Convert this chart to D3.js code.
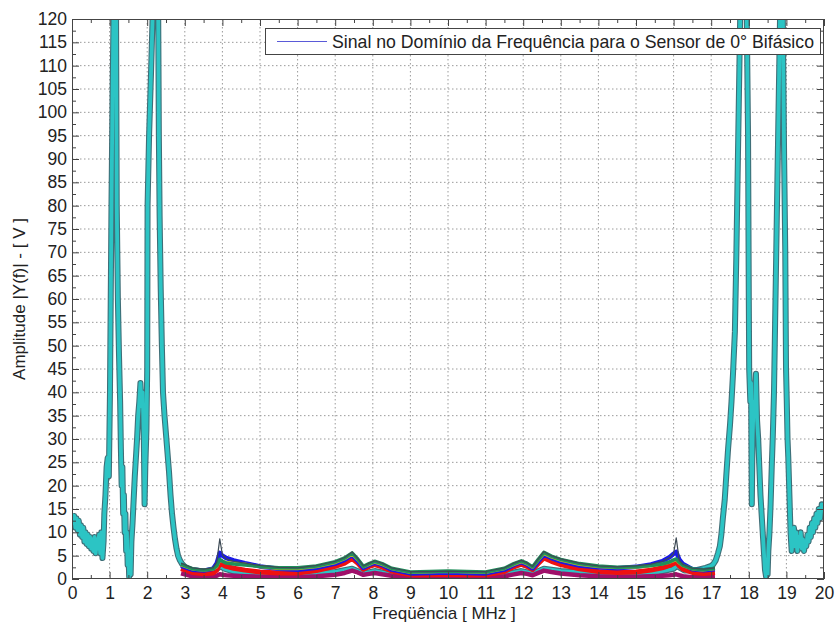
<!DOCTYPE html>
<html>
<head>
<meta charset="utf-8">
<script src="https://cdn.jsdelivr.net/npm/d3@7"></script>
<style>
  html, body { margin: 0; padding: 0; background: #fff; }
  svg { display: block; font-family: "Liberation Sans", Arial, Helvetica, sans-serif; }
  .tick text { fill: #222; }
  .eixo path { display: none; }
  .eixo line { stroke: #444; }
</style>
</head>
<body>
<svg id="grafico" width="837" height="623"></svg>
<script>
// Espectro de amplitude: canal ciano (faixa completa, 0 a 20 MHz)
const freqCiano = [
  0.00, 0.03, 0.06, 0.09, 0.12, 0.15, 0.18, 0.21, 0.24, 0.27, 0.30, 0.33, 0.36, 0.39, 0.42, 0.45,
  0.48, 0.51, 0.54, 0.57, 0.60, 0.63, 0.66, 0.69, 0.72, 0.75, 0.78, 0.81, 0.84, 0.86, 0.89, 0.92,
  0.95, 0.98, 1.01, 1.03, 1.05, 1.08, 1.11, 1.17, 1.19, 1.22, 1.25, 1.28, 1.30, 1.32, 1.34, 1.36,
  1.38, 1.40, 1.42, 1.44, 1.46, 1.48, 1.50, 1.52, 1.54, 1.56, 1.58, 1.61, 1.64, 1.67, 1.70, 1.73,
  1.76, 1.79, 1.82, 1.85, 1.88, 1.91, 1.93, 1.95, 1.98, 2.00, 2.01, 2.05, 2.10, 2.16, 2.29, 2.31,
  2.33, 2.36, 2.39, 2.42, 2.46, 2.50, 2.54, 2.58, 2.62, 2.66, 2.70, 2.74, 2.78, 2.82, 2.87, 2.92,
  3.00, 3.10, 3.25, 3.50, 3.75, 3.90, 3.95, 4.05, 4.30, 4.70, 5.20, 6.00, 7.00, 7.45, 7.75, 8.05,
  8.50, 9.50, 10.50, 11.50, 11.95, 12.25, 12.55, 13.00, 14.00, 15.00, 15.60, 16.00, 16.08, 16.30, 16.60, 16.85,
  17.00, 17.06, 17.12, 17.18, 17.23, 17.27, 17.31, 17.36, 17.40, 17.45, 17.50, 17.54, 17.58, 17.63, 17.67, 17.71,
  17.75, 17.78, 17.94, 17.98, 18.00, 18.01, 18.04, 18.06, 18.08, 18.10, 18.13, 18.16, 18.19, 18.22, 18.25, 18.28,
  18.31, 18.34, 18.37, 18.40, 18.43, 18.46, 18.48, 18.50, 18.52, 18.55, 18.58, 18.61, 18.64, 18.67, 18.70, 18.74,
  18.79, 18.84, 18.90, 18.94, 18.97, 18.99, 19.01, 19.03, 19.05, 19.08, 19.11, 19.14, 19.17, 19.20, 19.23, 19.26,
  19.29, 19.32, 19.35, 19.38, 19.41, 19.44, 19.47, 19.50, 19.53, 19.56, 19.59, 19.62, 19.65, 19.68, 19.71, 19.74,
  19.77, 19.80, 19.83, 19.86, 19.90, 19.94, 20.00
];
const ampCiano = [
  14, 12, 13.5, 11, 13, 10.5, 12.5, 9.5, 11.5, 9, 11, 8, 10, 7.5, 9.5, 7,
  9, 6.5, 8.5, 6, 9, 5.5, 8.5, 6.5, 9.5, 5.5, 10, 4.5, 8, 14, 18, 24,
  26, 22, 40, 60, 80, 105, 125, 125, 80, 60, 48, 38, 28, 20, 24, 14,
  18, 10, 14, 6, 10, 3, 6, 0.5, 4, 1, 8, 12, 17, 22, 26, 30,
  35, 38, 42, 37, 40, 30, 16, 24, 32, 45, 80, 95, 108, 125, 125, 95,
  78, 62, 50, 40, 35, 31, 27, 23, 18, 14, 11, 8.5, 6.5, 5, 4, 3.3,
  2.6, 2.1, 1.8, 1.6, 1.8, 2.4, 2.8, 2.2, 1.6, 1.3, 1.1, 1.0, 1.5, 2.2, 1.2, 1.7,
  1.0, 0.8, 0.8, 1.0, 1.7, 1.2, 2.2, 1.7, 1.2, 1.2, 1.5, 2.2, 2.8, 1.8, 1.9, 2.4,
  2.8, 3.2, 4.0, 5.5, 7, 9.5, 13, 17, 22, 28, 33, 38, 44, 53, 70, 90,
  110, 125, 125, 95, 60, 45, 38, 42, 16, 30, 38, 36, 44, 34, 30, 24,
  18, 14, 10, 6, 2, 0.5, 3, 1, 6, 10, 16, 24, 31, 40, 55, 75,
  100, 125, 125, 90, 70, 45, 38, 30, 26, 18, 10, 6, 9, 11, 7, 10,
  6, 9, 7, 10, 6.5, 8.5, 6, 8, 7, 9.5, 8, 11, 9, 12, 10, 13,
  11, 14, 12, 15, 13, 16, 15
];

// Demais canais, faixa central (2,9 a 17,1 MHz)
const freqCentral = [
  2.9, 3.2, 3.5, 3.75, 3.85, 3.93, 4.0, 4.1, 4.3, 4.6, 5.0, 5.5, 6.0, 6.5, 7.0, 7.25,
  7.45, 7.6, 7.75, 7.9, 8.05, 8.25, 8.5, 9.0, 9.5, 10.0, 10.5, 11.0, 11.5, 11.75, 11.95, 12.1,
  12.25, 12.4, 12.55, 12.75, 13.0, 13.5, 14.0, 14.5, 15.0, 15.4, 15.7, 15.9, 16.0, 16.07, 16.15, 16.25,
  16.5, 16.8, 17.1
];
const ampMagenta = [
  1.2, 0.6, 0.4, 0.5, 0.7, 1.0, 0.9, 0.8, 0.7, 0.6, 0.5, 0.4, 0.4, 0.6, 0.9, 1.3,
  1.8, 1.4, 0.9, 1.1, 1.3, 1.0, 0.7, 0.4, 0.4, 0.4, 0.4, 0.4, 0.6, 1.0, 1.3, 1.1,
  0.8, 1.3, 1.8, 1.5, 1.2, 0.8, 0.6, 0.5, 0.5, 0.6, 0.7, 0.8, 0.9, 1.0, 0.8, 0.6,
  0.4, 0.4, 0.5
];
const ampVermelho = [
  2.2, 1.4, 1.1, 1.3, 1.9, 3.3, 3.1, 2.7, 2.3, 1.9, 1.5, 1.3, 1.3, 1.8, 2.7, 3.4,
  4.4, 3.4, 2.1, 2.7, 3.1, 2.6, 1.7, 0.9, 0.9, 1.0, 0.9, 0.9, 1.6, 2.6, 3.2, 2.7,
  2.0, 3.3, 4.5, 3.8, 3.1, 2.2, 1.6, 1.4, 1.5, 1.9, 2.4, 2.9, 3.3, 3.6, 2.8, 2.1,
  1.4, 1.2, 1.4
];
const ampAzul = [
  2.8, 2.0, 1.8, 2.2, 3.4, 5.6, 5.0, 4.5, 4.0, 3.4, 2.7, 2.2, 2.0, 2.4, 3.3, 4.1,
  5.1, 3.9, 2.4, 3.0, 3.5, 3.0, 2.0, 1.2, 1.3, 1.4, 1.3, 1.2, 2.0, 3.0, 3.6, 3.1,
  2.3, 3.8, 5.2, 4.5, 3.8, 2.9, 2.5, 2.3, 2.6, 3.1, 3.8, 4.7, 5.4, 5.8, 4.2, 3.2,
  2.1, 1.9, 2.1
];
const ampOliva = [
  3.0, 2.1, 1.9, 2.1, 2.6, 4.0, 3.8, 3.6, 3.4, 3.2, 2.6, 2.2, 2.2, 2.6, 3.5, 4.3,
  5.3, 4.1, 2.6, 3.1, 3.6, 3.1, 2.2, 1.4, 1.5, 1.6, 1.5, 1.4, 2.2, 3.1, 3.7, 3.2,
  2.5, 4.0, 5.4, 4.7, 4.0, 3.1, 2.6, 2.4, 2.5, 2.8, 3.2, 3.6, 3.9, 4.1, 3.4, 2.8,
  2.1, 1.9, 2.2
];
const ampVerde = [
  3.2, 2.2, 1.9, 2.2, 2.8, 4.2, 3.8, 3.4, 3.2, 3.0, 2.7, 2.4, 2.4, 2.8, 3.7, 4.5,
  5.6, 4.3, 2.7, 3.3, 3.8, 3.3, 2.3, 1.5, 1.6, 1.7, 1.6, 1.5, 2.3, 3.3, 3.9, 3.4,
  2.6, 4.2, 5.7, 4.9, 4.2, 3.3, 2.8, 2.5, 2.6, 2.9, 3.2, 3.7, 4.1, 4.3, 3.6, 2.9,
  2.2, 2.0, 2.3
];
const ampEscuro = [
  3.4, 2.4, 2.1, 2.4, 3.6, 8.6, 5.2, 4.3, 3.8, 3.4, 2.9, 2.5, 2.4, 2.9, 3.8, 4.6,
  5.8, 4.4, 2.8, 3.4, 3.9, 3.4, 2.4, 1.6, 1.6, 1.7, 1.6, 1.6, 2.4, 3.4, 4.0, 3.5,
  2.7, 4.3, 5.9, 5.0, 4.3, 3.4, 2.8, 2.6, 2.8, 3.2, 3.8, 4.6, 5.5, 8.8, 4.0, 3.1,
  2.3, 2.1, 2.4
];

// Rótulos dos eixos
const rotulosX = [0, 1, 2, 3, 4, 5, 6, 7, 8, 9, 10, 11, 12, 13, 14, 15, 16, 17, 18, 19, 20];
const rotulosY = [0, 5, 10, 15, 20, 25, 30, 35, 40, 45, 50, 55, 60, 65, 70, 75, 80, 85, 90, 95, 100, 105, 110, 115, 120];
const menoresX = [0.5, 1.5, 2.5, 3.5, 4.5, 5.5, 6.5, 7.5, 8.5, 9.5, 10.5, 11.5, 12.5, 13.5, 14.5, 15.5, 16.5, 17.5, 18.5, 19.5];
const menoresY = [2.5, 7.5, 12.5, 17.5, 22.5, 27.5, 32.5, 37.5, 42.5, 47.5, 52.5, 57.5, 62.5, 67.5, 72.5, 77.5, 82.5, 87.5, 92.5, 97.5, 102.5, 107.5, 112.5, 117.5];

const textoLegenda = "Sinal no Domínio da Frequência para o Sensor de 0° Bifásico";

const svg = d3.select("#grafico");
const area = { x0: 72, x1: 824, y0: 19, y1: 579 };

const x = d3.scaleLinear().domain([0, 20]).range([area.x0, area.x1]);
const y = d3.scaleLinear().domain([0, 120]).range([area.y1, area.y0]);

svg.append("defs").append("clipPath").attr("id", "recorte")
  .append("rect")
  .attr("x", area.x0).attr("y", area.y0)
  .attr("width", area.x1 - area.x0).attr("height", area.y1 - area.y0);

// Grade pontilhada
const grade = svg.append("g");
grade.selectAll("line.gx").data(rotulosX.slice(1, -1)).join("line")
  .attr("x1", d => x(d)).attr("x2", d => x(d))
  .attr("y1", area.y0).attr("y2", area.y1)
  .attr("stroke", "#9a9a9a").attr("stroke-width", 1).attr("stroke-dasharray", "1.5,2.5");
grade.selectAll("line.gy").data(rotulosY.slice(1, -1)).join("line")
  .attr("x1", area.x0).attr("x2", area.x1)
  .attr("y1", d => y(d)).attr("y2", d => y(d))
  .attr("stroke", "#9a9a9a").attr("stroke-width", 1).attr("stroke-dasharray", "1.5,2.5");

// Curvas
const curvas = svg.append("g").attr("clip-path", "url(#recorte)");
const linha = d3.line().x(d => x(d[0])).y(d => y(Math.min(d[1], 125)));

function pares(fs, vs) { return fs.map((f, i) => [f, vs[i]]); }

const ciano = pares(freqCiano, ampCiano);
curvas.append("path").datum(ciano).attr("d", linha)
  .attr("fill", "none").attr("stroke", "#3f6f78").attr("stroke-width", 6)
  .attr("stroke-linejoin", "round");
curvas.append("path").datum(ciano).attr("d", linha)
  .attr("fill", "none").attr("stroke", "#2cc4c4").attr("stroke-width", 3.8)
  .attr("stroke-linejoin", "round");

const canais = [
  { v: ampMagenta, cor: "#a0106a", w: 4.5 },
  { v: ampVermelho, cor: "#ee1111", w: 5 },
  { v: ampAzul, cor: "#1a1ae6", w: 4.5 },
  { v: ampOliva, cor: "#b5b52a", w: 3 },
  { v: ampVerde, cor: "#1f8f5a", w: 3.5 },
  { v: ampEscuro, cor: "#3d4a55", w: 1.2 }
];
canais.forEach(c => {
  curvas.append("path").datum(pares(freqCentral, c.v)).attr("d", linha)
    .attr("fill", "none").attr("stroke", c.cor).attr("stroke-width", c.w)
    .attr("stroke-linejoin", "round");
});

// Eixos
svg.append("g").attr("class", "eixo").attr("transform", `translate(0,${area.y1})`)
  .call(d3.axisBottom(x).tickValues(rotulosX).tickSize(-7).tickSizeOuter(0).tickPadding(8));
svg.append("g").attr("class", "eixo").attr("transform", `translate(0,${area.y1})`)
  .call(d3.axisBottom(x).tickValues(menoresX).tickSize(-4).tickSizeOuter(0).tickFormat(""));
svg.append("g").attr("class", "eixo").attr("transform", `translate(0,${area.y0})`)
  .call(d3.axisTop(x).tickValues(rotulosX).tickSize(-7).tickSizeOuter(0).tickFormat(""));
svg.append("g").attr("class", "eixo").attr("transform", `translate(0,${area.y0})`)
  .call(d3.axisTop(x).tickValues(menoresX).tickSize(-4).tickSizeOuter(0).tickFormat(""));

svg.append("g").attr("class", "eixo").attr("transform", `translate(${area.x0},0)`)
  .call(d3.axisLeft(y).tickValues(rotulosY).tickSize(-7).tickSizeOuter(0).tickPadding(5));
svg.append("g").attr("class", "eixo").attr("transform", `translate(${area.x0},0)`)
  .call(d3.axisLeft(y).tickValues(menoresY).tickSize(-4).tickSizeOuter(0).tickFormat(""));
svg.append("g").attr("class", "eixo").attr("transform", `translate(${area.x1},0)`)
  .call(d3.axisRight(y).tickValues(rotulosY).tickSize(-7).tickSizeOuter(0).tickFormat(""));
svg.append("g").attr("class", "eixo").attr("transform", `translate(${area.x1},0)`)
  .call(d3.axisRight(y).tickValues(menoresY).tickSize(-4).tickSizeOuter(0).tickFormat(""));

svg.selectAll(".tick text").attr("font-size", 17.5).attr("font-family", null);

// Moldura
svg.append("rect")
  .attr("x", area.x0 + 0.5).attr("y", area.y0 + 0.5)
  .attr("width", area.x1 - area.x0 - 1).attr("height", area.y1 - area.y0 - 1)
  .attr("fill", "none").attr("stroke", "#444").attr("stroke-width", 1);

// Títulos dos eixos
svg.append("text")
  .attr("x", (area.x0 + area.x1) / 2 - 4).attr("y", 619)
  .attr("text-anchor", "middle").attr("font-size", 17).attr("fill", "#222")
  .text("Freqüência [ MHz ]");
svg.append("text")
  .attr("transform", `translate(25,${(area.y0 + area.y1) / 2}) rotate(-90)`)
  .attr("text-anchor", "middle").attr("font-size", 17).attr("fill", "#222")
  .text("Amplitude |Y(f)| - [ V ]");

// Legenda
const leg = svg.append("g");
leg.append("rect")
  .attr("x", 265.5).attr("y", 28.5).attr("width", 555).attr("height", 26)
  .attr("fill", "#fff").attr("stroke", "#444").attr("stroke-width", 1);
leg.append("line")
  .attr("x1", 277).attr("x2", 327).attr("y1", 41.5).attr("y2", 41.5)
  .attr("stroke", "#5a5ad8").attr("stroke-width", 1);
leg.append("text")
  .attr("x", 332).attr("y", 47.5).attr("font-size", 17.7).attr("fill", "#222")
  .text(textoLegenda);
</script>
</body>
</html>
